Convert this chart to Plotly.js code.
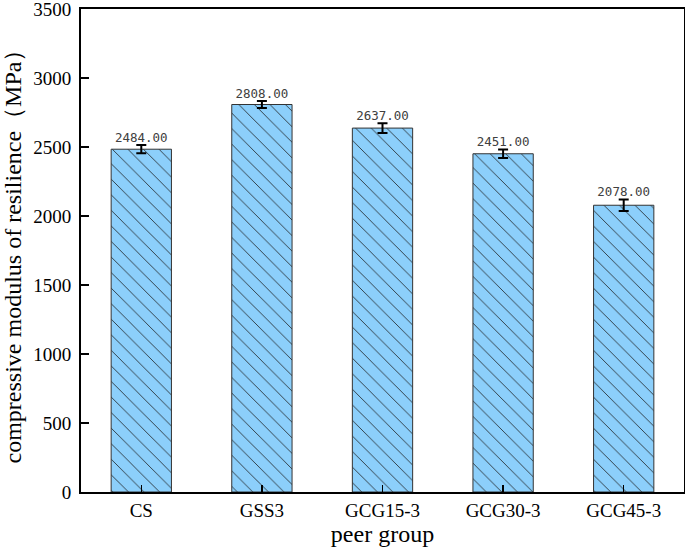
<!DOCTYPE html>
<html>
<head>
<meta charset="utf-8">
<script src="https://cdn.plot.ly/plotly-3.0.1.min.js"></script>
<style>html,body{margin:0;padding:0;background:#fff;}#chart{width:685px;height:555px;}</style>
</head>
<body>
<div id="chart"></div>
<script>
const categories = ["CS", "GSS3", "GCG15-3", "GCG30-3", "GCG45-3"];
const values = [2484, 2808, 2637, 2451, 2078];
const errors = [30, 25, 35, 30, 42];
const yTicks = [0, 500, 1000, 1500, 2000, 2500, 3000, 3500];

const serif = "Liberation Serif, Times New Roman, serif";

const barTrace = {
  type: "bar",
  x: categories,
  y: values,
  width: 0.5,
  marker: {
    color: "#8ccffb",
    line: {color: "#333333", width: 1},
    pattern: {shape: "\\", fgcolor: "#1a1a1a", bgcolor: "#8ccffb", size: 11, solidity: 0.07, fillmode: "replace"}
  },
  error_y: {type: "data", array: errors, visible: true, color: "#000", thickness: 2, width: 5},
  hoverinfo: "none"
};

const labelTrace = {
  type: "scatter",
  mode: "text",
  x: categories,
  y: values.map((v, i) => v + errors[i]),
  text: values.map(v => v.toFixed(2)),
  textposition: "top center",
  textfont: {family: "DejaVu Sans Mono, Liberation Mono, monospace", size: 12.5, color: "#404040"},
  hoverinfo: "none",
  cliponaxis: false
};

const layout = {
  width: 685,
  height: 555,
  margin: {l: 81, r: 1, t: 9, b: 63},
  paper_bgcolor: "#fff",
  plot_bgcolor: "#fff",
  showlegend: false,
  font: {family: serif, color: "#000"},
  xaxis: {
    type: "category",
    range: [-0.5, 4.5],
    showline: true, linecolor: "#000", linewidth: 2, mirror: true,
    ticks: "inside", ticklen: 7, tickwidth: 1.5, tickcolor: "#000",
    showgrid: false, zeroline: false,
    tickfont: {family: serif, size: 19, color: "#000"},
    title: {text: "peer group", font: {family: serif, size: 24, color: "#000"}, standoff: 4}
  },
  yaxis: {
    range: [0, 3500],
    tickvals: yTicks,
    ticktext: yTicks.map(String),
    ticklabeloverflow: "allow",
    showline: true, linecolor: "#000", linewidth: 2, mirror: true,
    ticks: "inside", ticklen: 8, tickwidth: 1.5, tickcolor: "#000",
    showgrid: false, zeroline: false,
    ticklabelstandoff: 4,
    tickfont: {family: serif, size: 19, color: "#000"},
    title: {text: "compressive modulus of resilience（MPa）", font: {family: serif, size: 24, color: "#000"}, standoff: 6}
  }
};

Plotly.newPlot("chart", [barTrace, labelTrace], layout, {displayModeBar: false, staticPlot: true});
</script>
</body>
</html>
